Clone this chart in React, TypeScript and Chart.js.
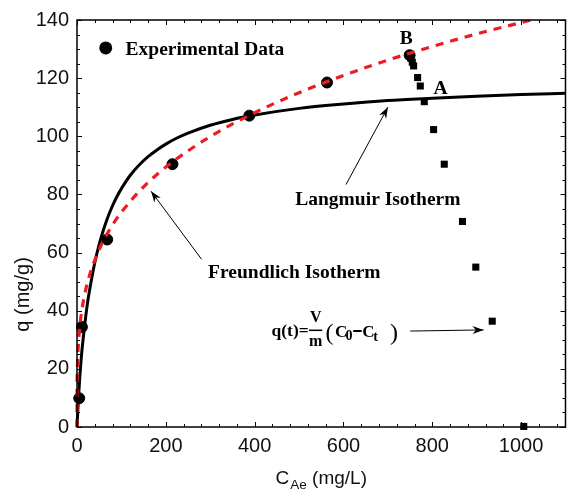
import React, { useEffect, useRef } from "react";
import { Chart, registerables } from "chart.js";

Chart.register(...registerables);

// ---------- axis ranges & ticks ----------
const X_MIN = 0;
const X_MAX = 1100;
const Y_MIN = 0;
const Y_MAX = 140;
const xTickValues = [0, 200, 400, 600, 800, 1000];
const yTickValues = [0, 20, 40, 60, 80, 100, 120, 140];
const xMinorStep = 40;
const yMinorStep = 5;

// ---------- experimental isotherm data (circles) ----------
const expC = [5, 11, 68, 215, 388, 563, 749];
const expQ = [9.9, 34.4, 64.5, 90.4, 107.1, 118.5, 127.9];

// ---------- q(t) desorption/kinetic points (squares) ----------
const kinC = [752, 755, 758, 767, 773, 782, 803, 827, 868, 898, 935, 1006];
const kinQ = [126.8, 125.5, 124.2, 120.2, 117.3, 111.9, 102.3, 90.4, 70.7, 55.0, 36.4, 0.2];

// ---------- Langmuir isotherm curve ----------
const langC = [0, 3, 6, 10, 15, 20, 25, 30, 40, 50, 60, 70, 80, 90, 100, 120, 140, 160, 180, 200, 225, 250, 300, 350, 400, 500, 600, 700, 800, 900, 1000, 1100];
const langQ = [0, 9, 16.5, 24.5, 32, 38.5, 44, 48.5, 56.5, 62.8, 68, 72.4, 76.1, 79.3, 82.0, 86.6, 90.1, 93.0, 95.3, 97.3, 99.4, 101.1, 103.8, 105.8, 107.3, 109.6, 111.1, 112.3, 113.1, 113.8, 114.4, 114.8];

// ---------- Freundlich isotherm curve ----------
const freC = [0, 0.2, 1, 2, 5, 10, 20, 40, 60, 80, 100, 150, 200, 300, 400, 500, 600, 700, 800, 900, 1000, 1100];
const freQ = [0, 13.5, 20.8, 25.2, 32.4, 39.2, 47.5, 57.4, 64.2, 69.5, 73.9, 82.6, 89.4, 99.9, 108.1, 115.0, 120.9, 126.2, 130.9, 135.2, 139.1, 142.8];

// ---------- annotation texts ----------
const legendText = "Experimental Data";
const langText = "Langmuir Isotherm";
const freText = "Freundlich Isotherm";
const xTitleMain = "C";
const xTitleSub = "Ae";
const xTitleUnit = " (mg/L)";
const yTitle = "q (mg/g)";

// annotation anchors in data coordinates [C, q]
const legendMarkAt = [64.7, 130.4];
const legendTextAt = [109.3, 128.1];
const labelBAt = [741.5, 131.7];
const labelAAt = [818.4, 114.6];
const langLabelAt = [491.5, 76.2];
const freLabelAt = [295.2, 51.1];
const langArrowFrom = [605.8, 83.4];
const langArrowTo = [700, 110.0];
const freArrowFrom = [280.5, 57.7];
const freArrowTo = [166.7, 81.1];
const formulaAt = [438, 31.3];
const formulaArrowFrom = [750.4, 33.0];
const formulaArrowTo = [915.5, 33.4];

const SERIF = "'Liberation Serif', 'Times New Roman', serif";
const SANS = "'Liberation Sans', Arial, sans-serif";

function drawArrow(ctx: any, x1: number, y1: number, x2: number, y2: number) {
  ctx.beginPath();
  ctx.moveTo(x1, y1);
  ctx.lineTo(x2, y2);
  ctx.stroke();
  const ang = Math.atan2(y2 - y1, x2 - x1);
  const L = 11;
  const W = 4;
  ctx.save();
  ctx.translate(x2, y2);
  ctx.rotate(ang);
  ctx.beginPath();
  ctx.moveTo(0, 0);
  ctx.lineTo(-L, -W);
  ctx.lineTo(-L * 0.7, 0);
  ctx.lineTo(-L, W);
  ctx.closePath();
  ctx.fill();
  ctx.restore();
}

const decorations = {
  id: "decorations",
  afterDatasetsDraw(chart: any) {
    const { ctx, chartArea: a, scales } = chart;
    const xs = scales.x;
    const ys = scales.y;
    const px = (v: number) => xs.getPixelForValue(v);
    const py = (v: number) => ys.getPixelForValue(v);
    ctx.save();

    // frame
    ctx.strokeStyle = "#000";
    ctx.lineWidth = 1.5;
    ctx.strokeRect(a.left, a.top, a.right - a.left, a.bottom - a.top);

    // inward ticks on all four sides
    ctx.lineWidth = 1;
    ctx.beginPath();
    for (let v = X_MIN; v <= X_MAX; v += xMinorStep) {
      const len = xTickValues.includes(v) ? 5 : 3;
      const x = Math.round(px(v)) + 0.5;
      ctx.moveTo(x, a.bottom);
      ctx.lineTo(x, a.bottom - len);
      ctx.moveTo(x, a.top);
      ctx.lineTo(x, a.top + len);
    }
    for (let v = Y_MIN; v <= Y_MAX; v += yMinorStep) {
      const len = yTickValues.includes(v) ? 5 : 3;
      const y = Math.round(py(v)) + 0.5;
      ctx.moveTo(a.left, y);
      ctx.lineTo(a.left + len, y);
      ctx.moveTo(a.right, y);
      ctx.lineTo(a.right - len, y);
    }
    ctx.stroke();

    ctx.fillStyle = "#000";
    ctx.textBaseline = "alphabetic";

    // legend
    ctx.beginPath();
    ctx.arc(px(legendMarkAt[0]), py(legendMarkAt[1]), 6.5, 0, Math.PI * 2);
    ctx.fill();
    ctx.font = `bold 19.5px ${SERIF}`;
    ctx.textAlign = "left";
    ctx.fillText(legendText, px(legendTextAt[0]), py(legendTextAt[1]));

    // A / B labels
    ctx.textAlign = "center";
    ctx.fillText("B", px(labelBAt[0]), py(labelBAt[1]));
    ctx.fillText("A", px(labelAAt[0]), py(labelAAt[1]));

    // isotherm labels
    ctx.textAlign = "left";
    ctx.fillText(langText, px(langLabelAt[0]), py(langLabelAt[1]));
    ctx.fillText(freText, px(freLabelAt[0]), py(freLabelAt[1]));

    // arrows
    ctx.lineWidth = 1;
    drawArrow(ctx, px(langArrowFrom[0]), py(langArrowFrom[1]), px(langArrowTo[0]), py(langArrowTo[1]));
    drawArrow(ctx, px(freArrowFrom[0]), py(freArrowFrom[1]), px(freArrowTo[0]), py(freArrowTo[1]));
    drawArrow(ctx, px(formulaArrowFrom[0]), py(formulaArrowFrom[1]), px(formulaArrowTo[0]), py(formulaArrowTo[1]));

    // formula q(t) = V/m (C0 - Ct)
    const fx = px(formulaAt[0]);
    const fy = py(formulaAt[1]);
    ctx.textAlign = "left";
    ctx.font = `bold 17.5px ${SERIF}`;
    ctx.fillText("q(t)=", fx, fy);
    ctx.textAlign = "center";
    ctx.font = `bold 16px ${SERIF}`;
    ctx.fillText("V", fx + 44.2, fy - 14.3);
    ctx.fillText("m", fx + 44.2, fy + 10);
    ctx.lineWidth = 1.5;
    ctx.beginPath();
    ctx.moveTo(fx + 37.4, fy - 5.7);
    ctx.lineTo(fx + 50.7, fy - 5.7);
    ctx.stroke();
    ctx.textAlign = "left";
    ctx.font = `24px ${SERIF}`;
    ctx.fillText("(", fx + 54, fy + 4);
    ctx.fillText(")", fx + 118.4, fy + 4);
    ctx.font = `bold 17px ${SERIF}`;
    ctx.fillText("C", fx + 63.4, fy + 1);
    ctx.fillText("C", fx + 90.7, fy + 1);
    ctx.font = `bold 14px ${SERIF}`;
    ctx.fillText("0", fx + 74, fy + 4.3);
    ctx.fillText("t", fx + 101.7, fy + 5);
    ctx.lineWidth = 2;
    ctx.beginPath();
    ctx.moveTo(fx + 81.7, fy - 5);
    ctx.lineTo(fx + 90.2, fy - 5);
    ctx.stroke();

    // axis titles
    ctx.fillStyle = "#111";
    const cx = (a.left + a.right) / 2;
    ctx.font = `19px ${SANS}`;
    const wMain = ctx.measureText(xTitleMain).width;
    const wUnit = ctx.measureText(xTitleUnit).width;
    ctx.font = `13.5px ${SANS}`;
    const wSub = ctx.measureText(xTitleSub).width;
    const total = wMain + 1 + wSub + wUnit;
    let sx = cx - total / 2;
    const baseY = a.bottom + 57;
    ctx.textAlign = "left";
    ctx.font = `19px ${SANS}`;
    ctx.fillText(xTitleMain, sx, baseY);
    sx += wMain + 1;
    ctx.font = `13.5px ${SANS}`;
    ctx.fillText(xTitleSub, sx, baseY + 5);
    sx += wSub;
    ctx.font = `19px ${SANS}`;
    ctx.fillText(xTitleUnit, sx, baseY);

    ctx.save();
    ctx.translate(29, py(45.6));
    ctx.rotate(-Math.PI / 2);
    ctx.textAlign = "center";
    ctx.font = `20px ${SANS}`;
    ctx.fillText(yTitle, 0, 0);
    ctx.restore();

    ctx.restore();
  },
};

export default function App() {
  const canvasRef = useRef<HTMLCanvasElement | null>(null);

  useEffect(() => {
    document.body.style.margin = "0";
    const canvas = canvasRef.current;
    if (!canvas) return;
    const toPts = (xs: number[], ys: number[]) => xs.map((x, i) => ({ x, y: ys[i] }));
    const chart = new Chart(canvas, {
      type: "scatter",
      data: {
        datasets: [
          {
            label: "Freundlich Isotherm",
            data: toPts(freC, freQ),
            showLine: true,
            borderColor: "#ec1c24",
            borderWidth: 3.2,
            borderDash: [8, 7],
            pointRadius: 0,
            cubicInterpolationMode: "monotone",
            clip: { left: 10, top: 0, right: 0, bottom: 10 },
            order: 1,
          },
          {
            label: "Langmuir Isotherm",
            data: toPts(langC, langQ),
            showLine: true,
            borderColor: "#000",
            borderWidth: 3,
            pointRadius: 0,
            cubicInterpolationMode: "monotone",
            clip: { left: 10, top: 0, right: 0, bottom: 10 },
            order: 2,
          },
          {
            label: "q(t)",
            data: toPts(kinC, kinQ),
            showLine: false,
            pointStyle: "rect",
            pointRadius: 5,
            backgroundColor: "#000",
            borderColor: "#000",
            borderWidth: 0,
            clip: false,
            order: 3,
          },
          {
            label: "Experimental Data",
            data: toPts(expC, expQ),
            showLine: false,
            pointStyle: "circle",
            pointRadius: 5.5,
            backgroundColor: "#000",
            borderColor: "#000",
            borderWidth: 1,
            clip: false,
            order: 4,
          },
        ] as any,
      },
      options: {
        responsive: false,
        animation: false,
        events: [],
        layout: { padding: { top: 15, right: 3, left: 0, bottom: 0 } },
        plugins: {
          legend: { display: false },
          tooltip: { enabled: false },
          title: { display: false },
        },
        scales: {
          x: {
            type: "linear",
            min: X_MIN,
            max: X_MAX,
            afterBuildTicks: (scale: any) => {
              scale.ticks = xTickValues.map((v) => ({ value: v }));
            },
            afterFit: (scale: any) => {
              scale.height = 69;
            },
            ticks: {
              font: { family: SANS, size: 20 },
              color: "#111",
              padding: 7,
              maxRotation: 0,
              autoSkip: false,
              callback: (v: any) => String(v),
            },
            grid: { display: false, drawTicks: false },
            border: { display: false },
          },
          y: {
            type: "linear",
            min: Y_MIN,
            max: Y_MAX,
            afterBuildTicks: (scale: any) => {
              scale.ticks = yTickValues.map((v) => ({ value: v }));
            },
            afterFit: (scale: any) => {
              scale.width = 77;
            },
            ticks: {
              font: { family: SANS, size: 20 },
              color: "#111",
              padding: 8,
              autoSkip: false,
              callback: (v: any) => String(v),
            },
            grid: { display: false, drawTicks: false },
            border: { display: false },
          },
        },
      } as any,
      plugins: [decorations],
    });
    return () => chart.destroy();
  }, []);

  return (
    <div style={{ width: 572, height: 496 }}>
      <canvas ref={canvasRef} width={572} height={496} style={{ display: "block" }} />
    </div>
  );
}
